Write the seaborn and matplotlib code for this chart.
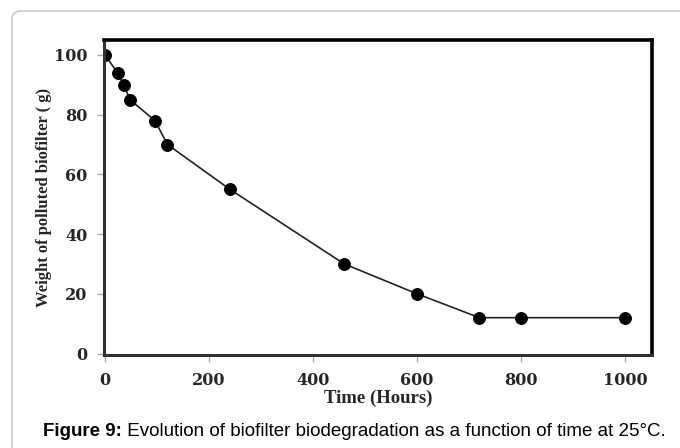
import matplotlib
matplotlib.use("Agg")
import matplotlib.pyplot as plt
import seaborn as sns
import pandas as pd
from matplotlib.patches import FancyBboxPatch
from matplotlib.offsetbox import TextArea, HPacker, AnchoredOffsetbox

time_hours = [0, 24, 36, 48, 96, 120, 240, 460, 600, 720, 800, 1000]
weight_g = [100, 94, 90, 85, 78, 70, 55, 30, 20, 12, 12, 12]
x_ticks = [0, 200, 400, 600, 800, 1000]
y_ticks = [0, 20, 40, 60, 80, 100]

df = pd.DataFrame({"Time": time_hours, "Weight": weight_g})

sns.set_theme(style="white")
plt.rcParams['font.family'] = ['Liberation Serif', 'DejaVu Serif']

fig = plt.figure(figsize=(6.8, 4.48), dpi=100)
W, H = 680, 448

# rounded panel border (top-left)
panel = FancyBboxPatch((12 / W, -0.2), 1.2, (H - 11) / H + 0.2,
                       boxstyle="round,pad=0,rounding_size=0.015",
                       transform=fig.transFigure, fill=False,
                       edgecolor="#cccccc", linewidth=1.2)
fig.add_artist(panel)

ax = fig.add_axes([104 / W, 1 - 355 / H, (652 - 104) / W, (355 - 40) / H])
sns.lineplot(data=df, x="Time", y="Weight", ax=ax, color="#222222",
             linewidth=1.2, marker="o", markersize=8.5,
             markerfacecolor="black", markeredgecolor="black")

ax.set_xlim(-2, 1052)
ax.set_ylim(-0.5, 105)
ax.set_xticks(x_ticks)
ax.set_yticks(y_ticks)
ax.tick_params(axis="both", which="both", direction="out", length=5,
               width=1, color="#aaaaaa", pad=7,
               bottom=True, left=True)
for lab in ax.get_xticklabels() + ax.get_yticklabels():
    lab.set_fontweight("bold")
    lab.set_family(["DejaVu Serif"])
    lab.set_fontsize(11.5)
for s in ["top", "right"]:
    ax.spines[s].set_linewidth(2.6)
    ax.spines[s].set_color("black")
for s in ["left", "bottom"]:
    ax.spines[s].set_linewidth(2.2)
    ax.spines[s].set_color("#333333")

ax.set_xlabel("Time (Hours)", fontsize=13.5, fontweight="bold", labelpad=1)
ax.set_ylabel("Weight of polluted biofilter ( g)", fontsize=12,
              fontweight="bold", labelpad=1)

t1 = TextArea("Figure 9:", textprops=dict(family=["Liberation Sans"],
                                          fontweight="bold", fontsize=13.5,
                                          color="black"))
t2 = TextArea(" Evolution of biofilter biodegradation as a function of time at 25°C.",
              textprops=dict(family=["Liberation Sans"], fontsize=13.5,
                             color="black"))
box = HPacker(children=[t1, t2], align="baseline", pad=0, sep=0)
anch = AnchoredOffsetbox(loc="center", child=box, frameon=False,
                         bbox_to_anchor=(354 / W, 1 - 431 / H),
                         bbox_transform=fig.transFigure, borderpad=0, pad=0)
fig.add_artist(anch)

fig.savefig("out.png", dpi=100)
